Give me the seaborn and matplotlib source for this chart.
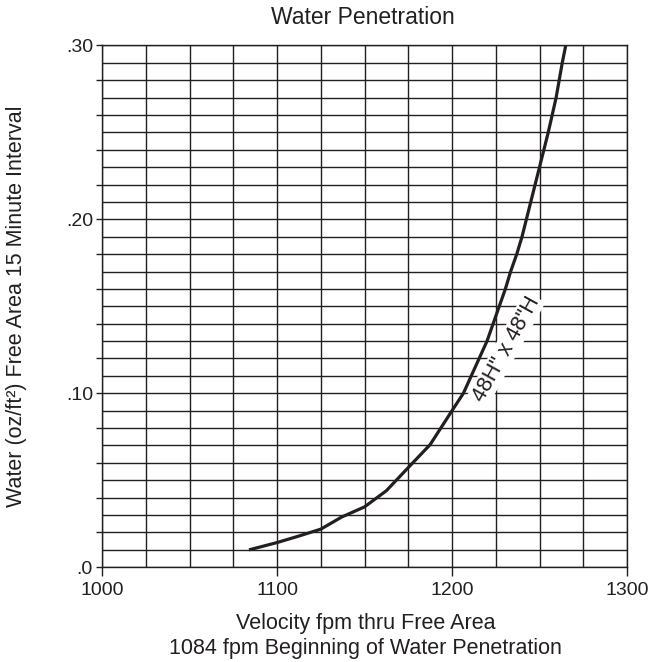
import numpy as np
import pandas as pd
import seaborn as sns
import matplotlib.pyplot as plt
from matplotlib.ticker import MultipleLocator, FuncFormatter

# curve (fpm, oz/ft2)
velocity = [1084, 1100, 1112, 1125, 1137, 1150, 1162.5, 1175, 1187.5, 1200,
            1206.5, 1211, 1215.5, 1220, 1223.5, 1227, 1230.5, 1233.5, 1237, 1240,
            1242.5, 1245, 1250, 1255, 1259.5, 1263, 1265]
water = [0.0100, 0.0142, 0.0178, 0.0219, 0.0289, 0.0347, 0.0440, 0.0573, 0.0705, 0.090,
         0.10, 0.11, 0.12, 0.13, 0.14, 0.15, 0.16, 0.17, 0.18, 0.19,
         0.20, 0.21, 0.23, 0.25, 0.27, 0.29, 0.30]
curve_label = '48H" x 48"H'

df = pd.DataFrame({'Velocity': velocity, 'Water': water})

sns.set_style('white')
plt.rcParams['font.family'] = ['Liberation Sans', 'DejaVu Sans']
ink = '#231f20'

fig = plt.figure(figsize=(6.53, 6.62), dpi=100)
ax = fig.add_axes([0.1562, 0.1431, 0.8040, 0.7884])

sns.lineplot(data=df, x='Velocity', y='Water', color=ink, linewidth=2.3,
             sort=False, ax=ax, zorder=3, solid_joinstyle='round',
             solid_capstyle='butt')

ax.set_xlim(1000, 1300)
ax.set_ylim(0, 0.30)

ax.xaxis.set_major_locator(MultipleLocator(100))
ax.xaxis.set_minor_locator(MultipleLocator(25))
ax.yaxis.set_major_locator(MultipleLocator(0.02))
ax.yaxis.set_minor_locator(MultipleLocator(0.01))


def ylab(v, pos):
    # only every .10 gets a label
    if abs(v / 0.1 - round(v / 0.1)) > 1e-6:
        return ''
    if abs(v) < 1e-9:
        return '.0'
    return f'{v:.2f}'.lstrip('0')


ax.yaxis.set_major_formatter(FuncFormatter(ylab))
ax.xaxis.set_major_formatter(FuncFormatter(lambda v, p: f'{int(round(v))}'))

ax.grid(True, which='both', color=ink, linewidth=1.0)
ax.tick_params(axis='x', which='major', direction='out', length=6.5, width=1.0,
               color=ink, labelsize=14, labelcolor=ink, pad=4, bottom=True)
ax.tick_params(axis='y', which='major', direction='out', length=4, width=1.0,
               color=ink, labelsize=14, labelcolor=ink, pad=2.5, left=True)
ax.tick_params(which='minor', length=0)
for s in ax.spines.values():
    s.set_color(ink)
    s.set_linewidth(1.0)

ax.set_xlabel('')
ax.set_ylabel('')

ax.text(1231, 0.1255, curve_label, rotation=61, fontsize=15.5, color=ink,
        ha='center', va='center', rotation_mode='anchor', zorder=4,
        bbox=dict(facecolor='white', edgecolor='none', pad=1.0))

fig.text(0.555, 0.974, 'Water Penetration', ha='center', va='center',
         fontsize=16.5, color=ink)
fig.text(0.560, 0.0585, 'Velocity fpm thru Free Area', ha='center', va='center',
         fontsize=15.5, color=ink)
fig.text(0.560, 0.0205, '1084 fpm Beginning of Water Penetration', ha='center',
         va='center', fontsize=15.5, color=ink)
fig.text(0.026, 0.537, 'Water (oz/ft²) Free Area 15 Minute Interval', rotation=90,
         ha='center', va='center', fontsize=15.5, color=ink)

fig.savefig('out.png', dpi=100)
